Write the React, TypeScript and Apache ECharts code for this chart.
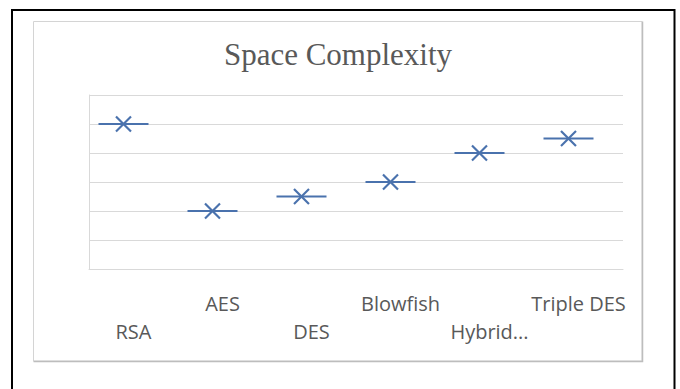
import React, { useEffect, useRef } from "react";
import * as echarts from "echarts";

// Cipher names along the category axis (Excel-style staggered labels)
const categories = ["RSA", "AES", "DES", "Blowfish", "Hybrid...", "Triple DES"];
// Relative space complexity per algorithm
const spaceValues = [5, 2, 2.5, 3, 4, 4.5];
// Value axis range (labels hidden, gridlines every unit)
const yMin = 0;
const yMax = 6;
const yStep = 1;

const MARK_COLOR = "#4a72ad";
const GRID_COLOR = "#d9d9d9";
const TEXT_COLOR = "#595959";

export default function App() {
  const ref = useRef<HTMLDivElement>(null);

  useEffect(() => {
    if (!ref.current) return;
    const chart = echarts.init(ref.current, null, { renderer: "svg" });

    chart.setOption({
      animation: false,
      backgroundColor: "#ffffff",
      title: {
        text: "Space Complexity",
        left: 333,
        textAlign: "center",
        top: 33,
        textStyle: {
          fontFamily: "Liberation Serif",
          fontSize: 31,
          fontWeight: "normal",
          color: TEXT_COLOR,
          lineHeight: 32,
        },
      },
      grid: { left: 89, right: 57, top: 95, bottom: 120, containLabel: false },
      xAxis: {
        type: "category",
        data: categories,
        boundaryGap: true,
        axisLine: { show: true, lineStyle: { color: GRID_COLOR, width: 1 } },
        axisTick: { show: false },
        splitLine: { show: false },
        axisLabel: {
          interval: 0,
          margin: 20,
          color: TEXT_COLOR,
          fontFamily: "Open Sans",
          fontSize: 20,
          lineHeight: 28,
          verticalAlign: "top",
          formatter: (v: string, i: number) => (i % 2 === 0 ? "\n" + v : v),
        },
      },
      yAxis: {
        type: "value",
        min: yMin,
        max: yMax,
        interval: yStep,
        axisLabel: { show: false },
        axisTick: { show: false },
        axisLine: { show: true, lineStyle: { color: GRID_COLOR, width: 1 } },
        splitLine: { show: true, lineStyle: { color: GRID_COLOR, width: 1 } },
      },
      series: [
        {
          type: "custom",
          data: spaceValues.map((v, i) => [i, v]),
          renderItem: (_params: any, api: any) => {
            const p = api.coord([api.value(0), api.value(1)]);
            const cx = p[0] - 10;
            const cy = p[1];
            const half = 25;
            const x = 7.5;
            return {
              type: "group",
              children: [
                {
                  type: "line",
                  shape: { x1: cx - half, y1: cy, x2: cx + half, y2: cy },
                  style: { stroke: MARK_COLOR, lineWidth: 2 },
                },
                {
                  type: "line",
                  shape: { x1: cx - x, y1: cy - x, x2: cx + x, y2: cy + x },
                  style: { stroke: MARK_COLOR, lineWidth: 2.2 },
                },
                {
                  type: "line",
                  shape: { x1: cx - x, y1: cy + x, x2: cx + x, y2: cy - x },
                  style: { stroke: MARK_COLOR, lineWidth: 2.2 },
                },
              ],
            };
          },
        },
      ],
      graphic: [
        {
          type: "rect",
          shape: { x: 33.5, y: 21.5, width: 608.5, height: 339.5 },
          style: { fill: "none", stroke: "#d4d4d4", lineWidth: 1 },
          silent: true,
        },
        {
          type: "polyline",
          shape: { points: [[642.5, 21.5], [642.5, 361.5], [33.5, 361.5]] },
          style: { fill: "none", stroke: "#bdbdbd", lineWidth: 1.5 },
          silent: true,
        },
        {
          type: "rect",
          shape: { x: 12, y: 10, width: 662.5, height: 400 },
          style: { fill: "none", stroke: "#000000", lineWidth: 2 },
          silent: true,
        },
      ],
    });

    return () => chart.dispose();
  }, []);

  return (
    <div
      ref={ref}
      style={{ position: "fixed", left: 0, top: 0, width: 680, height: 389 }}
    />
  );
}
